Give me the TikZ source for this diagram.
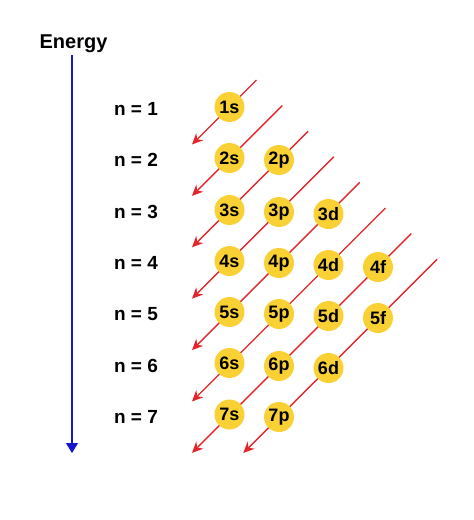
\documentclass[tikz,border=0pt]{standalone}
\usepackage{fontspec}
\setmainfont{Liberation Sans}
\usetikzlibrary{arrows.meta}
\definecolor{orb}{RGB}{249,209,52}
\definecolor{orderred}{RGB}{228,38,42}
\definecolor{axisblue}{RGB}{22,22,205}
\tikzset{
    orbital/.style = {circle,
                    fill=orb,
                    draw=none,
                    text=black,
                    inner sep=0pt,
                    minimum size=30pt,
                    font=\fontsize{18}{18}\selectfont\bfseries},
    level/.style =  {text=black,
                    inner sep=0pt,
                    font=\fontsize{19}{19}\selectfont\bfseries},
    order/.style =  {draw=orderred,
                    line width=1.4pt,
                    -{Stealth[length=11pt,width=10pt]}},
    axis/.style =   {draw=axisblue,
                    line width=1.5pt,
                    -{Triangle[length=10pt,width=12pt]}}}

\begin{document}
\begin{tikzpicture}[x=1pt,y=-1pt]
        \useasboundingbox (0,0) rectangle (474,520);
        % energy axis
        \node[level,anchor=base,font=\fontsize{20}{20}\selectfont\bfseries]
                           (E)  at (73.5,48) {Energy};
        \coordinate        (Etop) at (72,55);
        \coordinate        (Ebot) at (72,453);
        \path [axis]       (Etop) -- (Ebot);
        % shell labels
        \node[level]       (n1) at (136,109) {n = 1};
        \node[level]       (n2) at (136,160) {n = 2};
        \node[level]       (n3) at (136,212) {n = 3};
        \node[level]       (n4) at (136,263) {n = 4};
        \node[level]       (n5) at (136,314) {n = 5};
        \node[level]       (n6) at (136,366) {n = 6};
        \node[level]       (n7) at (136,417) {n = 7};
        % filling order
        \coordinate (a1) at (256.5,80);   \coordinate (b1) at (192,144.5);
        \coordinate (a2) at (282.3,105.6); \coordinate (b2) at (192,195.9);
        \coordinate (a3) at (308.1,131.2); \coordinate (b3) at (192,247.3);
        \coordinate (a4) at (333.9,156.8); \coordinate (b4) at (192,298.7);
        \coordinate (a5) at (359.7,182.4); \coordinate (b5) at (192,350.1);
        \coordinate (a6) at (385.5,208);   \coordinate (b6) at (192,401.5);
        \coordinate (a7) at (411.3,233.6); \coordinate (b7) at (192,452.9);
        \coordinate (a8) at (437.1,259.2); \coordinate (b8) at (243.3,453);
        \path [order]  (a1) -- (b1);
        \path [order]  (a2) -- (b2);
        \path [order]  (a3) -- (b3);
        \path [order]  (a4) -- (b4);
        \path [order]  (a5) -- (b5);
        \path [order]  (a6) -- (b6);
        \path [order]  (a7) -- (b7);
        \path [order]  (a8) -- (b8);
        % orbitals
        \node[orbital] (s1) at (229.5,107) {1s};
        \node[orbital] (s2) at (229.5,158) {2s};
        \node[orbital] (p2) at (279,160)   {2p};
        \node[orbital] (s3) at (229.5,210) {3s};
        \node[orbital] (p3) at (279,212)   {3p};
        \node[orbital] (d3) at (328.5,214) {3d};
        \node[orbital] (s4) at (229.5,261) {4s};
        \node[orbital] (p4) at (279,263)   {4p};
        \node[orbital] (d4) at (328.5,265) {4d};
        \node[orbital] (f4) at (378,267)   {4f};
        \node[orbital] (s5) at (229.5,312) {5s};
        \node[orbital] (p5) at (279,314)   {5p};
        \node[orbital] (d5) at (328.5,316) {5d};
        \node[orbital] (f5) at (378,318)   {5f};
        \node[orbital] (s6) at (229.5,363) {6s};
        \node[orbital] (p6) at (279,366)   {6p};
        \node[orbital] (d6) at (328.5,368) {6d};
        \node[orbital] (s7) at (229.5,414.5) {7s};
        \node[orbital] (p7) at (279,417)   {7p};
\end{tikzpicture}
\end{document}
